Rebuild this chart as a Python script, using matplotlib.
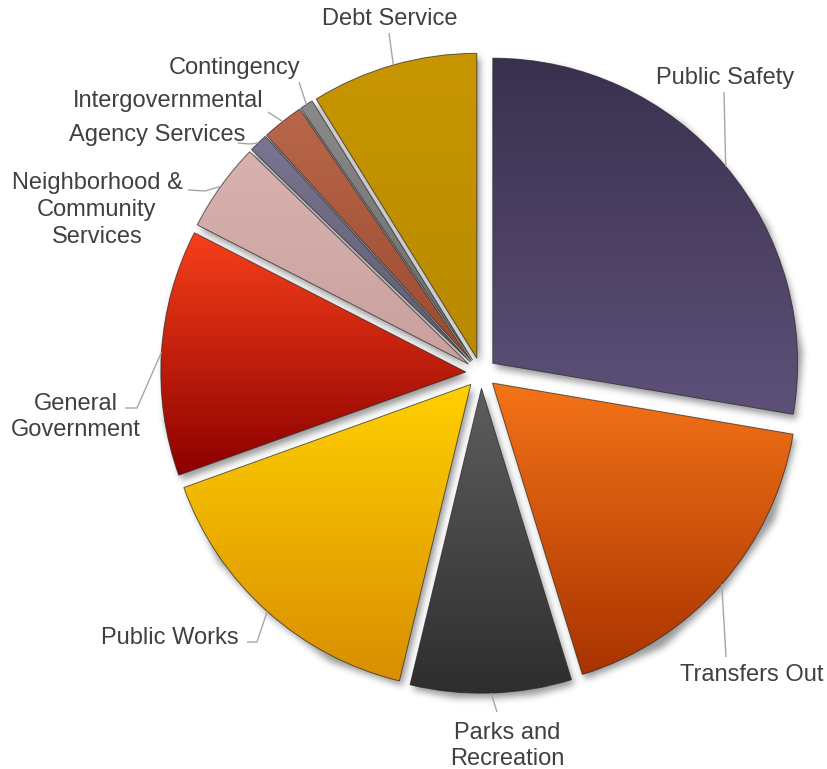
import numpy as np
import matplotlib
matplotlib.use("Agg")
import matplotlib.pyplot as plt
from matplotlib.colors import to_rgb

# Budget shares by department (percent of total)
categories = [
    "Public Safety", "Transfers Out", "Parks and\nRecreation", "Public Works",
    "General\nGovernment", "Neighborhood &\nCommunity\nServices",
    "Agency Services", "Intergovernmental", "Contingency", "Debt Service",
]
shares = [27.6, 17.5, 8.5, 15.7, 13.0, 4.7, 1.0, 2.2, 0.7, 8.8]

# top / bottom colours of each slice's vertical gradient
grad_top = ["#3a304e", "#f47418", "#5e5e5e", "#ffd000", "#f8401a",
            "#d9b2b0", "#7a7590", "#b8674b", "#8a8a8a", "#c79600"]
grad_bot = ["#5d5179", "#a93300", "#2e2e2e", "#d98e00", "#8c0000",
            "#c9a09e", "#5f5b70", "#9b4a30", "#6a6a6a", "#b98a00"]

# canvas geometry (pixels)
W, H = 828, 769
CX, CY, R = 481, 373, 305


def px(x, y):
    """pixel position -> data coordinates (pie radius = 1)"""
    return (x - CX) / R, (CY - y) / R


# label placement: text centre, leader points from text side (pixels)
label_pos = [(725, 78), (752, 675), (507, 746), (170, 638), (76, 417),
             (97, 210), (157, 135), (168, 101), (235, 68), (390, 19)]
leader_pts = [
    [(724, 92)], [(726, 657)], [(497, 712)], [(247, 642), (257, 642)],
    [(125, 408), (137, 408)], [(188, 190), (205, 191)],
    [(238, 143), (250, 144)], [(268, 112)], [(299, 82)], [(389, 33)],
]

plt.rcParams["font.family"] = ["Liberation Sans", "DejaVu Sans"]
fig = plt.figure(figsize=(W / 100, H / 100), dpi=100)
ax = fig.add_axes([0, 0, 1, 1])
x0, y1 = px(0, 0)
x1, y0 = px(W, H)

explode = [0.05] * len(shares)
wedges, _ = ax.pie(shares, radius=1.0, startangle=90, counterclock=False,
                   explode=explode, center=(0, 0))

# soft drop shadow under the pie
xs = (np.arange(W) + 0.5 - CX) / R
ys = (CY - (np.arange(H) + 0.5)) / R
X, Y = np.meshgrid(xs, ys)
off = (3 / R, -5 / R)
pts = np.column_stack([X.ravel() - off[0], Y.ravel() - off[1]])
mask = np.zeros(H * W)
for w in wedges:
    mask = np.maximum(mask, w.get_path().contains_points(pts).astype(float))
mask = mask.reshape(H, W)
sig = 3.5
k = np.exp(-0.5 * (np.arange(-12, 13) / sig) ** 2)
k /= k.sum()
mask = np.apply_along_axis(lambda r: np.convolve(r, k, mode="same"), 1, mask)
mask = np.apply_along_axis(lambda c: np.convolve(c, k, mode="same"), 0, mask)
shadow = np.zeros((H, W, 4))
shadow[..., 3] = mask * 0.4
ax.imshow(shadow, extent=[x0, x1, y0, y1], origin="upper", zorder=0,
          interpolation="bilinear")

# gradient fill clipped to each wedge
for w, ct, cb in zip(wedges, grad_top, grad_bot):
    ext = w.get_path().get_extents()
    t = np.linspace(0, 1, 256)[:, None]
    a, b = np.array(to_rgb(ct)), np.array(to_rgb(cb))
    img = (a[None, None, :] * (1 - t[..., None]) + b[None, None, :] * t[..., None])
    img = np.repeat(img, 2, axis=1)
    im = ax.imshow(img, extent=[ext.x0, ext.x1, ext.y0, ext.y1], origin="upper",
                   zorder=2, interpolation="bilinear")
    im.set_clip_path(w)
    w.set_facecolor("none")
    w.set_edgecolor((0.15, 0.15, 0.15, 0.7))
    w.set_linewidth(0.7)
    w.set_zorder(3)

# labels with leader lines
for w, lab, tp, lp in zip(wedges, categories, label_pos, leader_pts):
    mid = np.deg2rad(0.5 * (w.theta1 + w.theta2))
    cx, cy = w.center
    tip = (cx + w.r * np.cos(mid), cy + w.r * np.sin(mid))
    path = [px(*p) for p in lp] + [tip]
    ax.plot([p[0] for p in path], [p[1] for p in path], color="#a6a6a6",
            lw=1.0, zorder=4, solid_capstyle="butt")
    ax.text(*px(*tp), lab, ha="center", va="center", fontsize=17,
            color="#404040", linespacing=1.27, zorder=5)

ax.set_xlim(x0, x1)
ax.set_ylim(y0, y1)
ax.set_aspect("equal")
ax.axis("off")
fig.savefig("out.png", dpi=100)
